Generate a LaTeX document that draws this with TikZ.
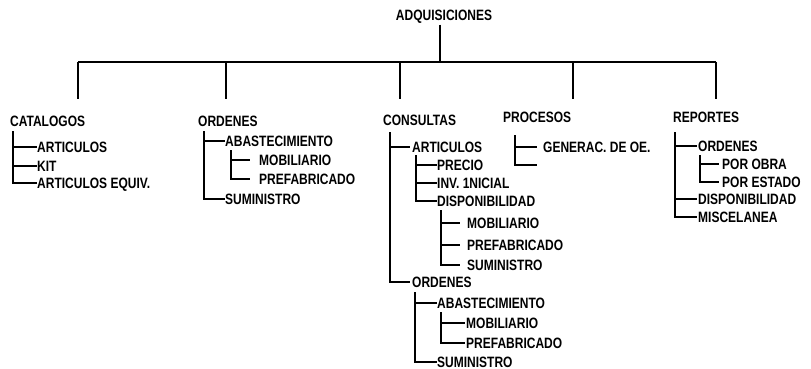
\documentclass[tikz,border=0pt]{standalone}
\usepackage{fontspec}
\setmainfont{Liberation Sans}[FakeStretch=0.8,UprightFont=*-Bold]
\begin{document}
\begin{tikzpicture}[x=1pt,y=-1pt,
  lbl/.style={anchor=west,inner sep=0pt,text height=10.8pt,text depth=0pt,font=\fontsize{15}{15}\selectfont},
  ln/.style={line width=1.5pt},
  mainln/.style={line width=1.9pt}]
\useasboundingbox (0,0) rectangle (811,369);
% title and top connectors
\node[lbl,anchor=center] (title) at (444,15) {ADQUISICIONES};
\coordinate (hub) at (440,62);
\coordinate (d1t) at (78,62);  \coordinate (d1b) at (78,99);
\coordinate (d2t) at (226,62); \coordinate (d2b) at (226,99);
\coordinate (d3t) at (400,62); \coordinate (d3b) at (400,99);
\coordinate (d4t) at (573,62); \coordinate (d4b) at (573,99);
\coordinate (d5t) at (716,62); \coordinate (d5b) at (716,99);
\draw[mainln] ([xshift=-4pt,yshift=-4pt]title.south) -- (hub);
\draw[mainln] (d1t) -- (d5t);
\foreach \i in {1,...,5} {\draw[mainln] (d\i t) -- (d\i b);}
% CATALOGOS
\node[lbl] (cat) at (10,121) {CATALOGOS};
\node[lbl] (cat1) at (37,147) {ARTICULOS};
\node[lbl] (cat2) at (37,166) {KIT};
\node[lbl] (cat3) at (37,183) {ARTICULOS EQUIV.};
\coordinate (catS) at (13,131);
\draw[ln] (catS) |- (cat1.west);
\draw[ln] (catS) |- (cat2.west);
\draw[ln] (catS) |- (cat3.west);
% ORDENES
\node[lbl] (ord) at (198,121) {ORDENES};
\node[lbl] (ord1) at (225,141) {ABASTECIMIENTO};
\node[lbl] (ord11) at (259,160) {MOBILIARIO};
\node[lbl] (ord12) at (259,179) {PREFABRICADO};
\node[lbl] (ord2) at (225,199) {SUMINISTRO};
\coordinate (ordS) at (204,131);
\coordinate (ord1S) at (231,150);
\draw[ln] (ordS) |- (ord1.west);
\draw[ln] (ordS) |- (ord2.west);
\draw[ln] (ord1S) |- ([xshift=-9pt]ord11.west);
\draw[ln] (ord1S) |- ([xshift=-9pt]ord12.west);
% CONSULTAS
\node[lbl] (con) at (383,120) {CONSULTAS};
\node[lbl] (con1) at (412,147) {ARTICULOS};
\node[lbl] (con11) at (437,165) {PRECIO};
\node[lbl] (con12) at (437,183) {INV. 1NICIAL};
\node[lbl] (con13) at (437,201) {DISPONIBILIDAD};
\node[lbl] (con131) at (467,223) {MOBILIARIO};
\node[lbl] (con132) at (467,245) {PREFABRICADO};
\node[lbl] (con133) at (467,265) {SUMINISTRO};
\node[lbl] (con2) at (412,282) {ORDENES};
\node[lbl] (con21) at (437,303) {ABASTECIMIENTO};
\node[lbl] (con211) at (466,323) {MOBILIARIO};
\node[lbl] (con212) at (466,343) {PREFABRICADO};
\node[lbl] (con22) at (437,362) {SUMINISTRO};
\coordinate (conS) at (390,132);
\coordinate (con1S) at (416,155);
\coordinate (con13S) at (441,210);
\coordinate (con2S) at (415,292);
\coordinate (con21S) at (441,312);
\draw[ln] (conS) |- ([xshift=-2pt]con1.west);
\draw[ln] (conS) |- ([xshift=-2pt]con2.west);
\draw[ln] (con1S) |- (con11.west);
\draw[ln] (con1S) |- (con12.west);
\draw[ln] (con1S) |- (con13.west);
\draw[ln] (con13S) |- ([xshift=-7pt]con131.west);
\draw[ln] (con13S) |- ([xshift=-7pt]con132.west);
\draw[ln] (con13S) |- ([xshift=-7pt]con133.west);
\draw[ln] (con2S) |- (con21.west);
\draw[ln] (con2S) |- (con22.west);
\draw[ln] (con21S) |- ([xshift=-1pt]con211.west);
\draw[ln] (con21S) |- ([xshift=-1pt]con212.west);
% PROCESOS
\node[lbl] (pro) at (503,117) {PROCESOS};
\node[lbl] (pro1) at (543,147) {GENERAC. DE OE.};
\coordinate (proS) at (515,135);
\coordinate (pro2) at (537,165);
\draw[ln] (proS) |- ([xshift=-6pt]pro1.west);
\draw[ln] (proS) |- (pro2);
% REPORTES
\node[lbl] (rep) at (673,117) {REPORTES};
\node[lbl] (rep1) at (698,146) {ORDENES};
\node[lbl] (rep11) at (722,164) {POR OBRA};
\node[lbl] (rep12) at (722,182) {POR ESTADO};
\node[lbl] (rep2) at (698,199) {DISPONIBILIDAD};
\node[lbl] (rep3) at (698,217) {MISCELANEA};
\coordinate (repS) at (675,132);
\coordinate (rep1S) at (700,155);
\draw[ln] (repS) |- ([xshift=-1pt]rep1.west);
\draw[ln] (repS) |- ([xshift=-1pt]rep2.west);
\draw[ln] (repS) |- ([xshift=-1pt]rep3.west);
\draw[ln] (rep1S) |- ([xshift=-3pt]rep11.west);
\draw[ln] (rep1S) |- ([xshift=-3pt]rep12.west);
\end{tikzpicture}
\end{document}
